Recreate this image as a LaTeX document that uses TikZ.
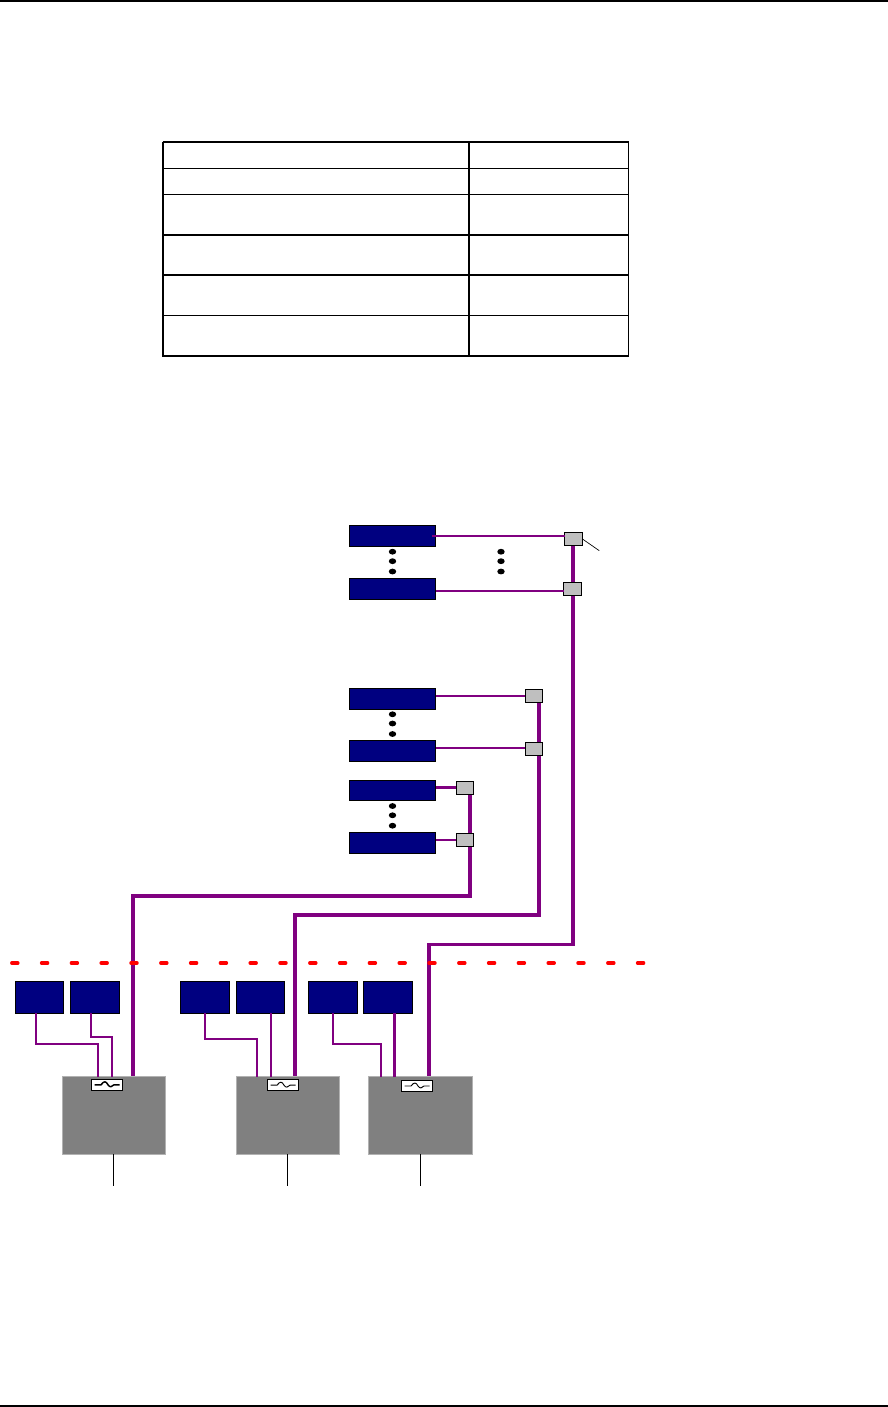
\documentclass[tikz,border=0pt]{standalone}
\usetikzlibrary{backgrounds}
\definecolor{unitblue}{HTML}{000080}
\definecolor{linkpurple}{HTML}{800080}
\tikzset{
  unitbox/.style={draw=black, fill=unitblue, line width=0.75pt, inner sep=0pt, outer sep=0pt, minimum width=65.2pt, minimum height=15.8pt},
  portbox/.style={unitbox, minimum width=36.6pt, minimum height=24pt},
  tapbox/.style={draw=black, fill=black!25, line width=0.75pt, inner sep=0pt, outer sep=0pt, minimum width=13pt, minimum height=10pt},
  hostbox/.style={draw=black!30, fill=black!50, line width=0.9pt, inner sep=0pt, outer sep=0pt, minimum width=77.5pt, minimum height=58.2pt},
  filterbox/.style={draw=black, fill=white, line width=0.75pt, inner sep=0pt, outer sep=0pt, minimum width=23.5pt, minimum height=8.4pt},
  wire/.style={draw=linkpurple, line width=1.6pt},
  trunk/.style={draw=linkpurple, line width=2.8pt}
}
\begin{document}
\begin{tikzpicture}[x=0.75pt, y=-0.75pt]
  \useasboundingbox (0,0) rectangle (888,1407);
  % page rules
  \draw[line width=1.2pt] (0,1) -- (888,1);
  \draw[line width=1.2pt] (0,1406) -- (888,1406);
  % empty table
  \foreach \y/\w in {142/1.4,168.3/0.9,194.3/0.9,235/1.4,275/1.4,315.3/0.9,356/1.4}
    \draw[line width=\w pt] (162.5,\y) -- (628.7,\y);
  \foreach \x/\w in {162.7/1.2,469/1.6,628.5/1.2}
    \draw[line width=\w pt] (\x,141.5) -- (\x,356.5);
  % long units
  \foreach \n/\y in {ua/535.8,ub/588.8,uc/698.8,ud/750.8,uf/842.8}
    \node[unitbox] (\n) at (392.5,\y) {};
  \node[unitbox, minimum height=15pt] (ue) at (392.5,790.4) {};
  % dots between units
  \foreach \x/\y in {392.5/551.7,392.5/561.2,392.5/571.5,501/551.7,501/561.2,501/571.5,392.5/714.3,392.5/723.5,392.5/734,392.5/806,392.5/815.3,392.5/825.7}
    \fill (\x,\y) ellipse [x radius=3.7, y radius=2.9];
  % taps on the trunks
  \foreach \n/\x/\y in {ta/573.5/538.8,tb/572.5/589,tc/533.8/695.8,td/533.8/748.8,te/464.8/788,tf/464.8/840}
    \node[tapbox] (\n) at (\x,\y) {};
  % hosts with filters
  \foreach \n/\x in {ha/114,hb/287.8,hc/420.5}
    \node[hostbox] (\n) at (\x,1115.5) {};
  \foreach \n/\x/\y in {fa/107/1084.8,fb/283/1085.2,fc/417/1086}
    \node[filterbox] (\n) at (\x,\y) {};
  \foreach \f/\w in {fa/1.1,fb/0.7,fc/0.7}
    \draw[line width=\w pt, shift={(\f)}] (-12.5,0) -- (-6,0) .. controls (-3,-4) and (-1,-4) .. (1,0) .. controls (3,3) and (5,2) .. (7,0) -- (12.5,0);
  % short ports
  \foreach \n/\x in {pa/39.5,pb/95,pc/205,pd/260.5,pe/333,pf/388}
    \node[portbox] (\n) at (\x,997.3) {};
  % unit to tap
  \draw[wire] ([xshift=-3pt]ua.east) -- (ua.east -| ta.west);
  \draw[wire] (ub.east |- 0,590.7) -- (tb.west |- 0,590.7);
  \draw[wire] (uc.east |- tc.west) -- (tc.west);
  \draw[wire] (ud.east |- 0,748) -- (td.west |- 0,748);
  \draw[wire, line width=2.4pt] (ue.east |- 0,787.3) -- (te.west |- 0,787.3);
  \draw[wire] (uf.east |- 0,840) -- (tf.west |- 0,840);
  % trunks
  \coordinate (bendx) at (470.3,896);
  \coordinate (bendy) at (539,915);
  \coordinate (bendz) at (573.3,944.5);
  \coordinate (topx) at (133,1077);
  \coordinate (topy) at (295,1077);
  \coordinate (topz) at (429.3,1077);
  \begin{scope}[on background layer]
    \draw[trunk] (te.south -| bendx) -- (bendx) -| (topx);
    \draw[trunk] (tc.south -| bendy) -- (bendy) -| (topy);
    \draw[trunk] (ta.south -| bendz) -- (bendz) -| (topz);
  \end{scope}
  % port to host
  \coordinate (ga) at (98.3,1077);
  \coordinate (gb) at (112,1077);
  \coordinate (gc) at (257,1077);
  \coordinate (gd) at (271,1077);
  \coordinate (ge) at (381,1077);
  \coordinate (gf) at (394.3,1077);
  \foreach \s/\xs/\d/\t/\w in {pa/-2.85/31/ga/1.6,pb/-2.8/24/gb/1.5,pc/0/26/gc/1.6,pd/7.9/26/gd/1.6,pe/0/31/ge/1.6,pf/4.7/26/gf/2}
    \draw[wire, line width=\w pt] ([xshift=\xs pt]\s.south) -- ++(0,\d) -| (\t);
  % stubs below hosts
  \foreach \h/\x in {ha/113.3,hb/287.3,hc/420.3} {
    \coordinate (s\h) at (\x,1186);
    \draw[line width=0.75pt] (\h.south -| s\h) -- (s\h);
  }
  % leader at the top tap
  \coordinate (lead) at (599.3,550.7);
  \draw[line width=0.5pt] (ta.east) -- (lead);
  % red dashed boundary
  \draw[red, line width=2.6pt, line cap=round, dash pattern=on 4.5pt off 17.85pt] (11.8,963) -- (645,963);
\end{tikzpicture}
\end{document}
